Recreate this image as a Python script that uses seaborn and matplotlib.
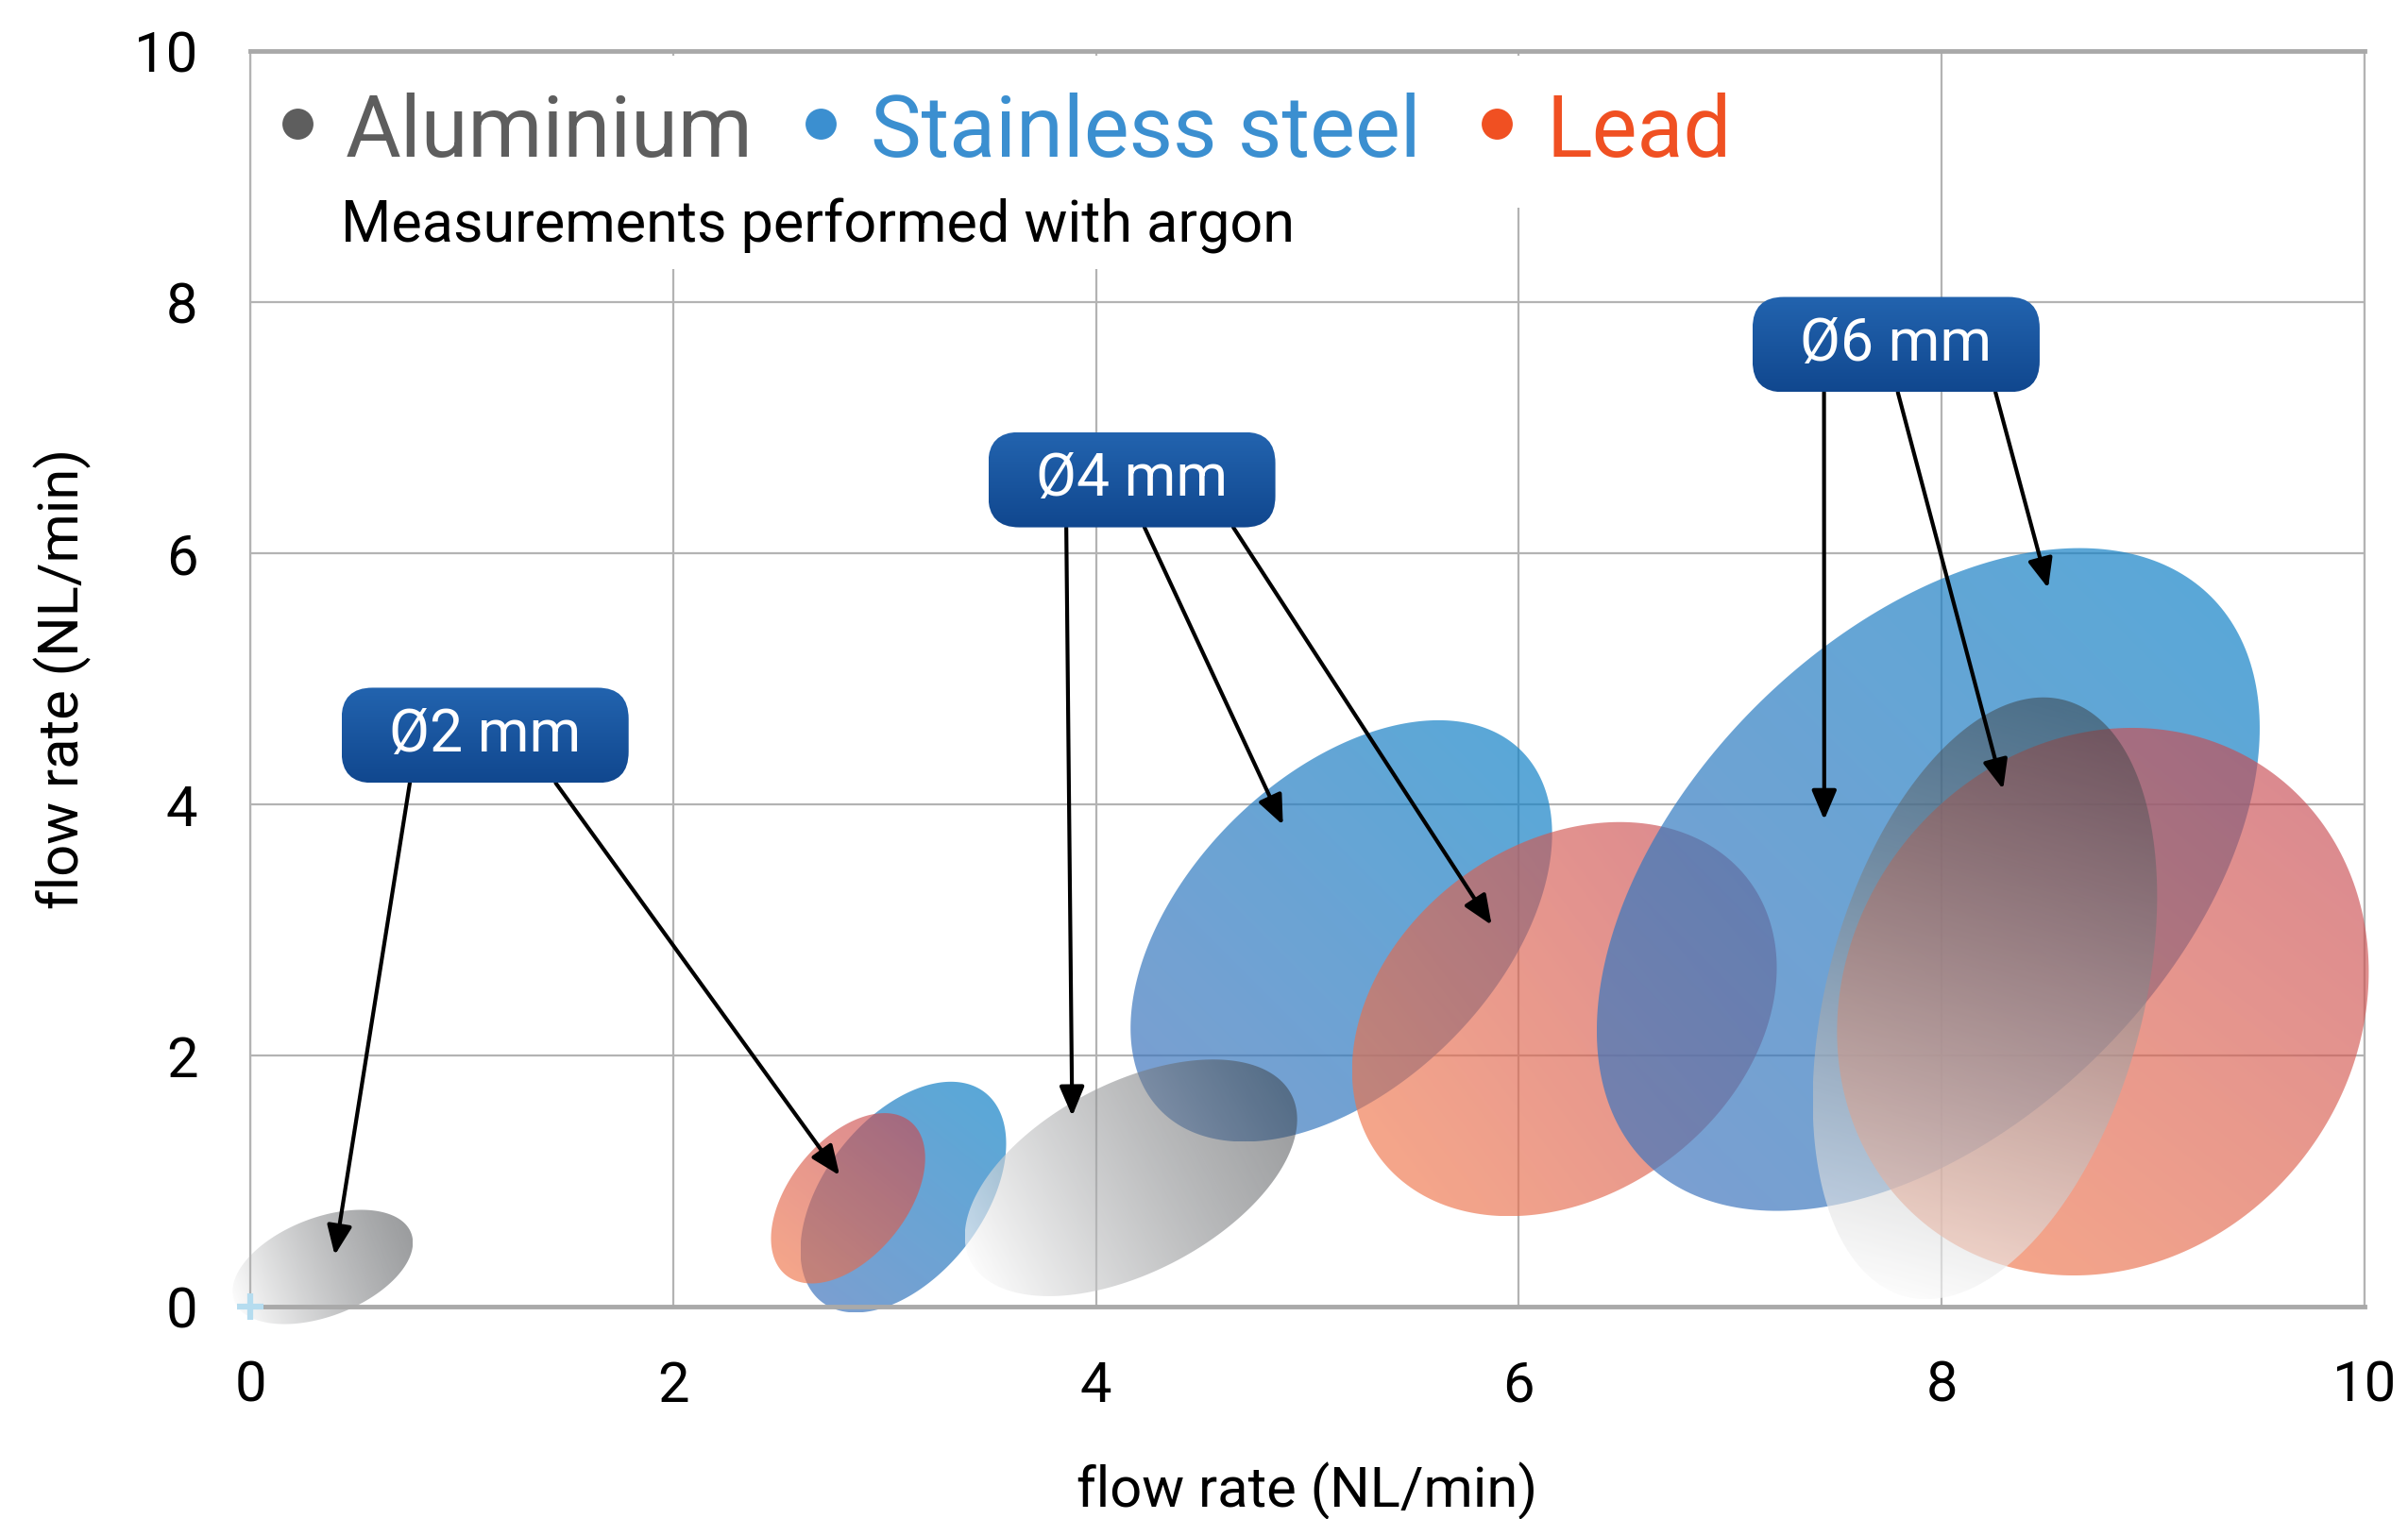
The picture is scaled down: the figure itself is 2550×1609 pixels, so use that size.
import numpy as np
import matplotlib.pyplot as plt
import seaborn as sns
from matplotlib.patches import Polygon, Rectangle, FancyBboxPatch

# data (flow rate in NL/min)
materials = ['Aluminium', 'Stainless steel', 'Lead']
diameters = ['Ø2 mm', 'Ø4 mm', 'Ø6 mm']

# ellipse centres, half axes (in x units) and tilt (screen degrees), per diameter
al_x = [0.343, 4.166, 8.205]
al_y = [0.316, 1.026, 2.456]
al_a = [0.448, 0.855, 1.460]
al_b = [0.233, 0.4475, 0.747]
al_ang = [21, 27.5, 75]

ss_x = [3.089, 5.161, 7.937]
ss_y = [0.872, 2.992, 3.402]
ss_a = [0.628, 1.205, 1.892]
ss_b = [0.375, 0.732, 1.156]
ss_ang = [52, 45, 45]

pb_x = [2.828, 6.216, 8.763]
pb_y = [0.863, 2.290, 2.429]
pb_a = [0.4675, 1.092, 1.347]
pb_b = [0.277, 0.828, 1.202]
pb_ang = [51, 37, 52.6]

# label boxes and the points their arrows go to
label_x = [1.111, 4.170, 7.785]
label_y = [4.55, 6.586, 7.662]
arrow_from_x = [[0.755, 1.445], [3.86, 4.23, 4.65], [7.444, 7.793, 8.255]]
arrow_to = [[(0.40, 0.41), (2.788, 1.045)],
            [(3.888, 1.517), (4.885, 3.836), (5.872, 3.039)],
            [(7.445, 3.876), (8.291, 4.120), (8.504, 5.722)]]

legend_colors = ['#5e5e5e', '#3b8fd0', '#f05022']
# gradient ends (rgb 0-255, alpha) along the major axis
grad = {
    'Aluminium': ((250, 250, 250, 0.65), (55, 58, 62, 0.5)),
    'Stainless steel': ((65, 118, 189, 0.7), (19, 131, 199, 0.7)),
    'Lead': ((240, 118, 75, 0.65), (200, 75, 83, 0.65)),
}

sns.set_theme(style='whitegrid')
plt.rcParams['font.family'] = ['Roboto', 'DejaVu Sans']

fig = plt.figure(figsize=(25.5, 16.09), dpi=100)
ax = fig.add_axes([0.1039, 0.1398, 0.878, 0.8266])
ax.set_xlim(0, 10)
ax.set_ylim(0, 10)
bb = ax.get_window_extent()
R = (bb.width / 10) / (bb.height / 10)  # y units per x unit on screen


def gradient_ellipse(cx, cy, a, b, ang, c0, c1, z):
    t = np.linspace(0, 2 * np.pi, 300)
    th = np.radians(ang)
    dx = a * np.cos(t) * np.cos(th) - b * np.sin(t) * np.sin(th)
    dy = (a * np.cos(t) * np.sin(th) + b * np.sin(t) * np.cos(th)) * R
    poly = Polygon(np.column_stack([cx + dx, cy + dy]), closed=True,
                   fc='none', ec='none', transform=ax.transData)
    ax.add_patch(poly)
    x0, x1 = cx + dx.min(), cx + dx.max()
    y0, y1 = cy + dy.min(), cy + dy.max()
    n = 300
    X, Y = np.meshgrid(np.linspace(x0, x1, n) - cx, (np.linspace(y0, y1, n) - cy) / R)
    p = (X * np.cos(th) + Y * np.sin(th)) / a
    p = np.clip((p + 1) / 2, 0, 1)[..., None]
    s = np.array(c0, float) / [255, 255, 255, 1]
    e = np.array(c1, float) / [255, 255, 255, 1]
    img = s * (1 - p) + e * p
    im = ax.imshow(img, extent=[x0, x1, y0, y1], origin='lower', aspect='auto',
                   interpolation='bilinear', zorder=z)
    im.set_clip_path(poly)
    im.set_clip_box(fig.bbox)


sets = {
    'Aluminium': (al_x, al_y, al_a, al_b, al_ang),
    'Stainless steel': (ss_x, ss_y, ss_a, ss_b, ss_ang),
    'Lead': (pb_x, pb_y, pb_a, pb_b, pb_ang),
}
z = 2
for i in range(len(diameters)):
    for m in ['Stainless steel', 'Lead', 'Aluminium']:
        xs, ys, aa, bs, angs = sets[m]
        gradient_ellipse(xs[i], ys[i], aa[i], bs[i], angs[i], grad[m][0], grad[m][1], z)
        z += 0.1

# little marker at origin
sns.scatterplot(x=[0], y=[0], marker='+', s=380, color='#b5dcef', linewidth=4.5,
                ax=ax, zorder=5, clip_on=False)

# arrows and labels
box_w, box_h = 1.358, 0.759
for i, lab in enumerate(diameters):
    top = label_y[i] - box_h / 2
    for fx, (tx, ty) in zip(arrow_from_x[i], arrow_to[i]):
        ax.annotate('', xy=(tx, ty), xytext=(fx, top),
                    arrowprops=dict(arrowstyle='-|>,head_length=0.95,head_width=0.4',
                                    lw=3, color='black', mutation_scale=20,
                                    shrinkA=0, shrinkB=0), zorder=6)
    box = FancyBboxPatch((label_x[i] - box_w / 2, label_y[i] - box_h / 2), box_w, box_h,
                         boxstyle='round,pad=0,rounding_size=0.147', mutation_aspect=R,
                         fc='none', ec='none', zorder=7)
    ax.add_patch(box)
    g = np.linspace(0, 1, 64)[:, None, None]
    top_c = np.array([0.135, 0.39, 0.685, 1.0])
    bot_c = np.array([0.065, 0.28, 0.56, 1.0])
    gimg = np.repeat(bot_c * (1 - g) + top_c * g, 2, axis=1)
    bim = ax.imshow(gimg, extent=[label_x[i] - box_w / 2, label_x[i] + box_w / 2,
                                  label_y[i] - box_h / 2, label_y[i] + box_h / 2],
                    origin='lower', aspect='auto', interpolation='bilinear', zorder=7)
    bim.set_clip_path(box)
    ax.text(label_x[i], label_y[i], lab, color='white', fontsize=45, ha='center',
            va='center', zorder=8)

ax.set_xlim(0, 10)
ax.set_ylim(0, 10)
ax.set_xticks(range(0, 11, 2))
ax.set_yticks(range(0, 11, 2))
ax.grid(True, color='#b3b3b3', lw=1.6)
ax.set_axisbelow(True)
for side in ['top', 'bottom']:
    ax.spines[side].set_color('#a9a9a9')
    ax.spines[side].set_linewidth(3.5)
for side in ['left', 'right']:
    ax.spines[side].set_color('#b3b3b3')
    ax.spines[side].set_linewidth(1.6)
ax.tick_params(length=0, pad=40, labelsize=43, colors='black')
ax.set_xlabel('flow rate (NL/min)', fontsize=43, color='black')
ax.set_ylabel('flow rate (NL/min)', fontsize=43, color='black')
ax.xaxis.set_label_coords(0.5, -0.124)
ax.yaxis.set_label_coords(-0.075, 0.5)

# legend block with white background over the grid
ax.add_patch(Rectangle((0.003, 0.875), 0.707, 0.121, transform=ax.transAxes,
                       fc='white', ec='none', zorder=1))
ax.add_patch(Rectangle((0.003, 0.826), 0.51, 0.05, transform=ax.transAxes,
                       fc='white', ec='none', zorder=1))
dot_x = [0.0225, 0.270, 0.5897]
text_x = [0.045, 0.2934, 0.6129]
for name, c, dx, tx in zip(materials, legend_colors, dot_x, text_x):
    ax.scatter([dx], [0.9425], s=560, color=c, transform=ax.transAxes, zorder=3,
               clip_on=False, linewidths=0)
    ax.text(tx, 0.9156, name, color=c, fontsize=65, transform=ax.transAxes,
            va='baseline', ha='left', zorder=3)
ax.text(0.0428, 0.848, 'Measurements performed with argon', color='black', fontsize=44,
        transform=ax.transAxes, va='baseline', ha='left', zorder=3)

fig.savefig('out.png', dpi=100)
